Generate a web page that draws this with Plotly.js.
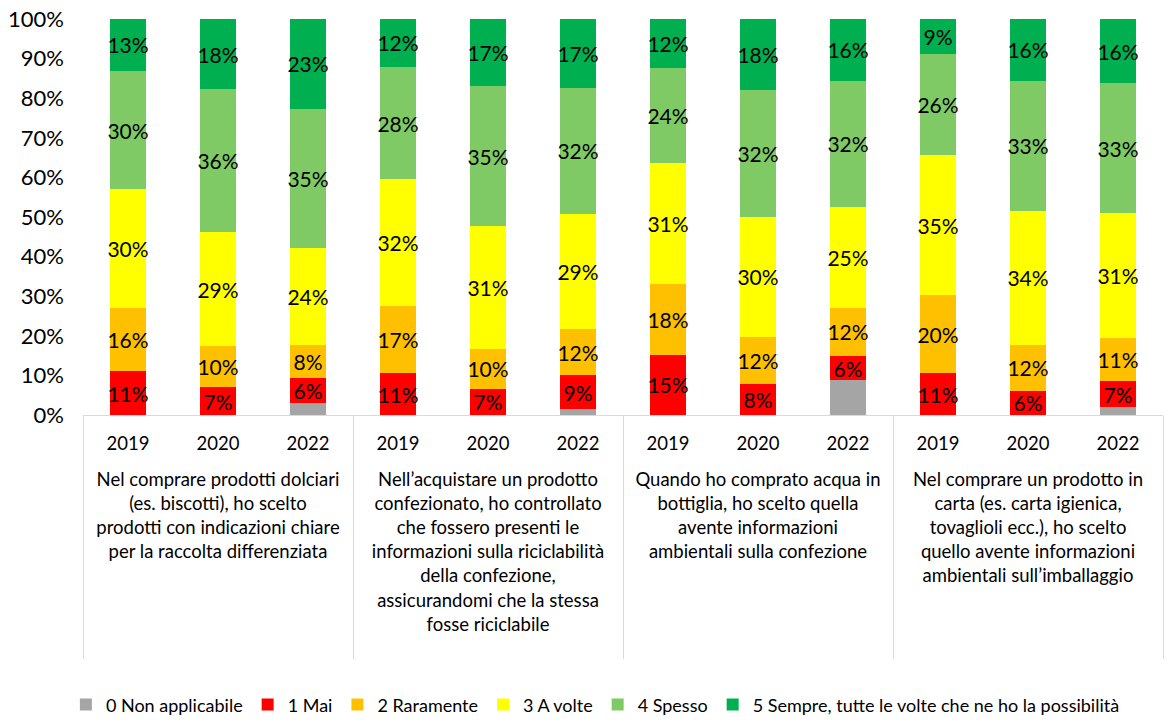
<!DOCTYPE html>
<html>
<head>
<meta charset="utf-8">
<script src="https://cdn.plot.ly/plotly-3.0.1.min.js"></script>
<style>html,body{margin:0;padding:0;background:#fff;}#chart{width:1172px;height:720px;}</style>
</head>
<body>
<div id="chart"></div>
<script>
const groups = [
  "Nel comprare prodotti dolciari<br>(es. biscotti), ho scelto<br>prodotti con indicazioni chiare<br>per la raccolta differenziata",
  "Nell’acquistare un prodotto<br>confezionato, ho controllato<br>che fossero presenti le<br>informazioni sulla riciclabilità<br>della confezione,<br>assicurandomi che la stessa<br>fosse riciclabile",
  "Quando ho comprato acqua in<br>bottiglia, ho scelto quella<br>avente informazioni<br>ambientali sulla confezione",
  "Nel comprare un prodotto in<br>carta (es. carta igienica,<br>tovaglioli ecc.), ho scelto<br>quello avente informazioni<br>ambientali sull’imballaggio"
];
const years = ["2019", "2020", "2022"];

const seriesNames = ["0 Non applicabile", "1 Mai", "2 Raramente", "3 A volte", "4 Spesso",
  "5 Sempre, tutte le volte che ne ho la possibilità"];
const seriesColors = ["#A5A5A5", "#FF0000", "#FFC000", "#FFFF00", "#7FCA64", "#00B050"];

// values in %, order: G1 2019, 2020, 2022, G2 ..., G3 ..., G4 ...
const nonApplicabile = [0, 0, 3.1, 0, 0, 1.4, 0, 0, 8.8, 0, 0, 2.0];
const mai            = [11.1, 7.0, 6.3, 10.6, 6.6, 8.6, 15.2, 7.8, 6.1, 10.6, 6.1, 6.6];
const raramente      = [16.0, 10.4, 8.3, 16.9, 10.1, 11.8, 17.8, 12.0, 12.2, 19.7, 11.7, 10.9];
const aVolte         = [29.9, 28.7, 24.4, 32.0, 31.0, 28.9, 30.7, 30.3, 25.4, 35.3, 33.8, 31.4];
const spesso         = [29.9, 36.2, 35.2, 28.4, 35.4, 32.0, 23.9, 31.9, 31.9, 25.6, 32.8, 32.9];
const sempre         = [13.1, 17.7, 22.7, 12.1, 16.9, 17.3, 12.4, 18.0, 15.6, 8.8, 15.6, 16.2];

const seriesValues = [nonApplicabile, mai, raramente, aVolte, spesso, sempre];

// blank lines around group labels keep them clear of the year labels and lengthen dividers
const xGroup = [], xYear = [];
groups.forEach(g => years.forEach(y => { xGroup.push("\u00a0<br>" + g + "<br>\u00a0"); xYear.push(y); }));

const FONT = "Lato, 'Noto Sans', sans-serif";

const traces = seriesValues.map((vals, i) => ({
  type: "bar",
  name: seriesNames[i],
  x: [xGroup, xYear],
  y: vals.map(v => v / 100),
  marker: {color: seriesColors[i], line: {width: 0}},
  text: i === 0 ? undefined : vals.map(v => Math.round(v) + "%"),
  texttemplate: i === 0 ? "" : "%{text}",
  textposition: i === 0 ? "none" : "inside",
  insidetextanchor: "middle",
  constraintext: "none",
  textangle: 0,
  textfont: {family: FONT, size: 21, color: "#000"},
  hoverinfo: "name+y"
}));

const layout = {
  width: 1172, height: 720,
  margin: {l: 83, r: 9, t: 19, b: 305},
  barmode: "stack",
  bargap: 0.6,
  paper_bgcolor: "#fff",
  plot_bgcolor: "#fff",
  font: {family: FONT, color: "#000"},
  showlegend: true,
  legend: {
    orientation: "h", x: 0.508, xanchor: "center", xref: "container",
    y: 0.021, yanchor: "middle", yref: "container",
    font: {size: 18, color: "#000"}, traceorder: "normal",
    itemwidth: 30
  },
  xaxis: {
    type: "multicategory",
    automargin: false,
    showline: true, linecolor: "#D9D9D9", linewidth: 1,
    showdividers: true, dividercolor: "#D9D9D9", dividerwidth: 1,
    ticklabelstandoff: 12,
    tickfont: {size: 18.5, color: "#000"},
    ticks: "", showgrid: false
  },
  yaxis: {
    range: [0, 1], tickformat: ".0%", dtick: 0.1,
    automargin: false,
    showgrid: false, zeroline: false, showline: false,
    ticklabelstandoff: 18,
    tickfont: {size: 22, color: "#000"}, ticks: "", ticklen: 0
  }
};

Plotly.newPlot("chart", traces, layout, {displayModeBar: false, staticPlot: true});
</script>
</body>
</html>
